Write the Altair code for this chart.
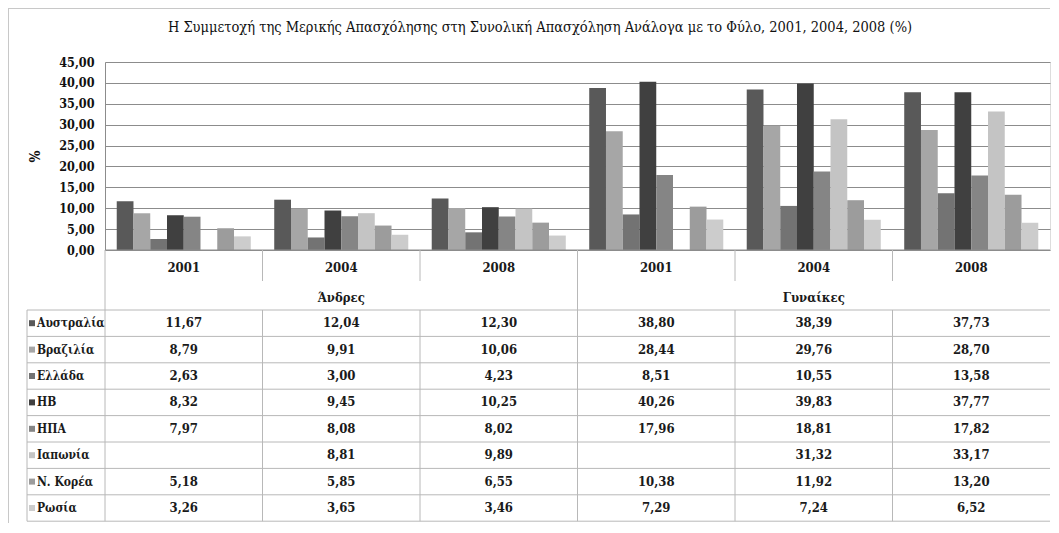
import altair as alt
import pandas as pd

# ---------------- data ----------------
countries = ["Αυστραλία", "Βραζιλία", "Ελλάδα", "ΗΒ", "ΗΠΑ", "Ιαπωνία", "Ν. Κορέα", "Ρωσία"]
colors = ["#595959", "#a6a6a6", "#737373", "#404040", "#858585", "#c4c4c4", "#9c9c9c", "#cccccc"]
genders = ["Άνδρες", "Γυναίκες"]
years = ["2001", "2004", "2008"]

# order: Άνδρες 2001, 2004, 2008, Γυναίκες 2001, 2004, 2008
australia = [11.67, 12.04, 12.30, 38.80, 38.39, 37.73]
brazil = [8.79, 9.91, 10.06, 28.44, 29.76, 28.70]
greece = [2.63, 3.00, 4.23, 8.51, 10.55, 13.58]
uk = [8.32, 9.45, 10.25, 40.26, 39.83, 37.77]
usa = [7.97, 8.08, 8.02, 17.96, 18.81, 17.82]
japan = [None, 8.81, 9.89, None, 31.32, 33.17]
korea = [5.18, 5.85, 6.55, 10.38, 11.92, 13.20]
russia = [3.26, 3.65, 3.46, 7.29, 7.24, 6.52]

series = [australia, brazil, greece, uk, usa, japan, korea, russia]
title_text = "Η Συμμετοχή της Μερικής Απασχόλησης στη Συνολική Απασχόληση Ανάλογα με το Φύλο, 2001, 2004, 2008 (%)"

# ---------------- layout ----------------
W = 945
H = 188
WG = W / 6
TT = 248          # table top (plot coords)
RH = 26.4         # table row height
FONT = "DejaVu Serif Condensed, DejaVu Serif"
GRID = "#8c8c8c"
TLINE = "#b8b8b8"

groups = [f"{g} {y}" for g in genders for y in years]

rows = []
for ci, (c, vals) in enumerate(zip(countries, series)):
    for gi, v in enumerate(vals):
        rows.append({
            "country": c,
            "grp": groups[gi],
            "value": v,
            "label": "" if v is None else f"{v:.2f}".replace(".", ","),
            "ty": TT + (ci + 0.5) * RH,
            "color": colors[ci],
        })
df = pd.DataFrame(rows)
bars_df = df[df["value"].notna()]

xg = alt.Scale(domain=groups, paddingInner=0, paddingOuter=0)

bars = alt.Chart(bars_df).mark_bar().encode(
    x=alt.X("grp:N", scale=xg, axis=None, sort=groups),
    xOffset=alt.XOffset("country:N", scale=alt.Scale(domain=countries, paddingInner=0, paddingOuter=0.70)),
    y=alt.Y("value:Q", scale=alt.Scale(domain=[0, 45], nice=False),
            axis=alt.Axis(values=list(range(0, 50, 5)),
                          labelExpr="replace(format(datum.value, '.2f'), '.', ',')",
                          labelFont=FONT, labelFontSize=12.5, labelFontWeight="bold",
                          labelColor="#111111", labelPadding=11, ticks=False,
                          domain=True, domainColor=GRID, gridColor=GRID, gridOpacity=1,
                          title="%", titleFont=FONT, titleFontSize=14, titleFontWeight="bold",
                          titleColor="#111111", titleX=-70, titleY=94,
                          titleAlign="center", titleBaseline="middle")),
    color=alt.Color("country:N", scale=alt.Scale(domain=countries, range=colors), legend=None),
)

# ---- rule segments (pixel layout) ----
segs = []
segs.append({"x1": 0, "x2": W, "y1": H, "y2": H, "c": GRID})                  # x axis line
for k in [1, 2, 4, 5]:
    segs.append({"x1": k * WG, "x2": k * WG, "y1": H, "y2": H + 31, "c": TLINE})
segs.append({"x1": 3 * WG, "x2": 3 * WG, "y1": H, "y2": TT, "c": TLINE})
segs.append({"x1": 0, "x2": 0, "y1": H, "y2": TT + 8 * RH, "c": TLINE})
for k in range(9):
    segs.append({"x1": -78, "x2": W, "y1": TT + k * RH, "y2": TT + k * RH, "c": TLINE})
for k in range(1, 6):
    segs.append({"x1": k * WG, "x2": k * WG, "y1": TT, "y2": TT + 8 * RH, "c": TLINE})
segs.append({"x1": -78, "x2": -78, "y1": TT, "y2": TT + 8 * RH, "c": TLINE})
# outer chart border
segs.append({"x1": -96.5, "x2": -96.5, "y1": -54, "y2": TT + 8 * RH + 3, "c": "#c8c8c8"})
segs.append({"x1": -97, "x2": W, "y1": -53.5, "y2": -53.5, "c": "#c8c8c8"})
segs_df = pd.DataFrame(segs)

rules = alt.Chart(segs_df).mark_rule(strokeWidth=1).encode(
    x=alt.X("x1:Q", scale=None, axis=None),
    x2="x2:Q",
    y=alt.Y("y1:Q", scale=None, axis=None),
    y2="y2:Q",
    color=alt.Color("c:N", scale=None, legend=None),
)

# ---- table values ----
vals_text = alt.Chart(df).mark_text(font=FONT, fontSize=13, fontWeight="bold", color="#1a1a1a",
                                    baseline="middle", align="center").encode(
    x=alt.X("grp:N", scale=xg, axis=None, sort=groups),
    y=alt.Y("ty:Q", scale=None, axis=None),
    text="label:N",
)

# ---- year labels ----
year_df = pd.DataFrame({"grp": groups, "year": years * 2, "ty": [H + 18] * 6})
year_text = alt.Chart(year_df).mark_text(font=FONT, fontSize=13, fontWeight="bold", color="#1a1a1a",
                                         baseline="middle", align="center").encode(
    x=alt.X("grp:N", scale=xg, axis=None, sort=groups),
    y=alt.Y("ty:Q", scale=None, axis=None),
    text="year:N",
)

# ---- gender labels ----
gender_df = pd.DataFrame({"gender": genders, "ty": [H + 48] * 2})
gender_text = alt.Chart(gender_df).mark_text(font=FONT, fontSize=13, fontWeight="bold", color="#1a1a1a",
                                             baseline="middle", align="center").encode(
    x=alt.X("gender:N", scale=alt.Scale(domain=genders, paddingInner=0, paddingOuter=0), axis=None),
    y=alt.Y("ty:Q", scale=None, axis=None),
    text="gender:N",
)

# ---- country row labels ----
cl_df = pd.DataFrame({"country": countries, "ty": [TT + (i + 0.5) * RH for i in range(8)], "color": colors})
cl_sq = alt.Chart(cl_df).mark_square(size=36, opacity=1).encode(
    x=alt.value(-73),
    y=alt.Y("ty:Q", scale=None, axis=None),
    color=alt.Color("color:N", scale=None, legend=None),
)
cl_text = alt.Chart(cl_df).mark_text(font=FONT, fontSize=12, fontWeight="bold", color="#1a1a1a",
                                     baseline="middle", align="left").encode(
    x=alt.value(-68),
    y=alt.Y("ty:Q", scale=None, axis=None),
    text="country:N",
)

# ---- title ----
title_df = pd.DataFrame({"t": [title_text], "ty": [-34]})
title = alt.Chart(title_df).mark_text(font=FONT, fontSize=14.5, color="#111111",
                                      baseline="middle", align="center").encode(
    x=alt.value(435),
    y=alt.Y("ty:Q", scale=None, axis=None),
    text="t:N",
)

chart = alt.layer(
    bars, rules, vals_text, year_text, gender_text, cl_sq, cl_text, title
).resolve_scale(
    x="independent", y="independent", color="independent"
).properties(
    width=W, height=H,
    autosize=alt.AutoSizeParams(type="none"),
    padding={"left": 97, "top": 54, "right": 1, "bottom": 273},
).configure_view(stroke=None).configure(background="white")

chart.save("out.html", embed_options={"renderer": "svg", "actions": False})
